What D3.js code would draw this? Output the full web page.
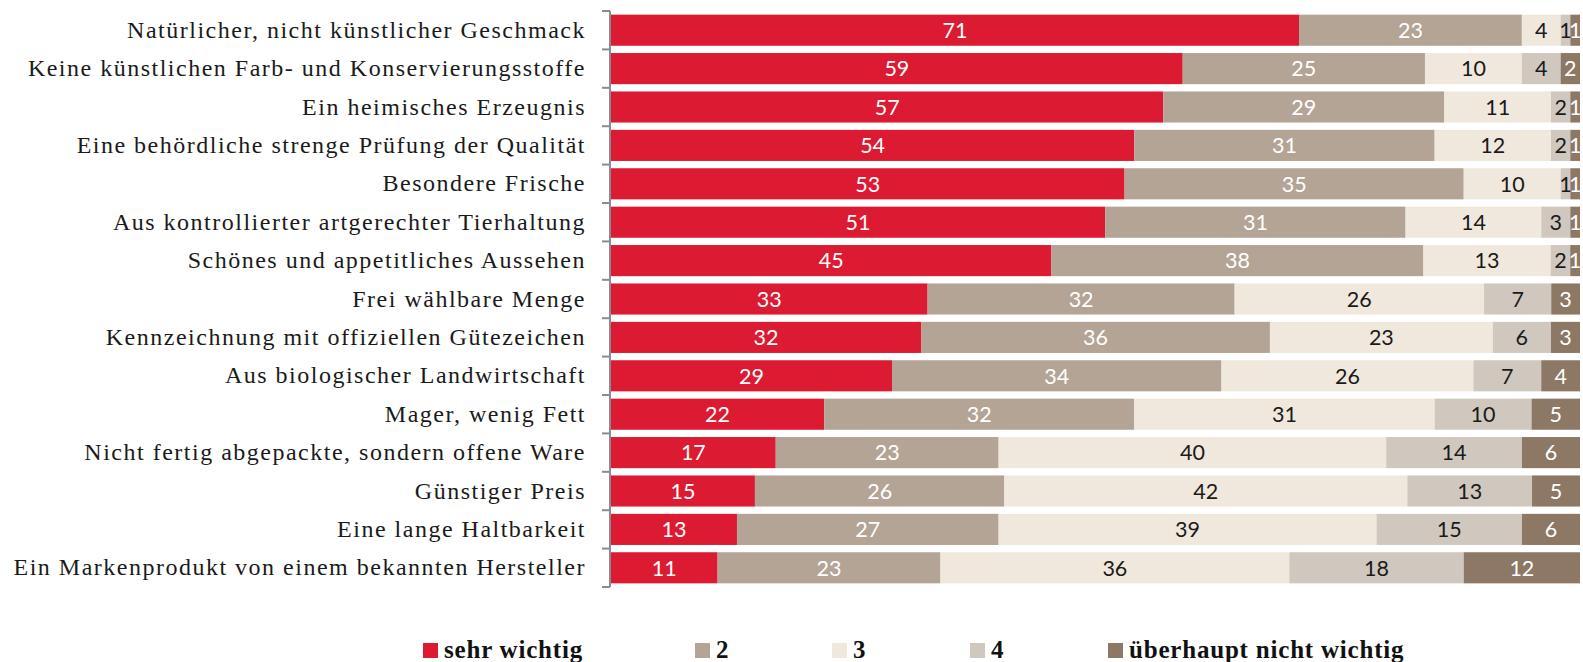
<!DOCTYPE html>
<html><head><meta charset="utf-8">
<script src="https://cdn.jsdelivr.net/npm/d3@7/dist/d3.min.js"></script>
<style>
html,body{margin:0;padding:0;background:#fff;overflow:hidden}
svg{display:block}
</style></head>
<body>
<svg id="chart" width="1583" height="662"></svg>
<script>
const categories = [
  "Natürlicher, nicht künstlicher Geschmack",
  "Keine künstlichen Farb- und Konservierungsstoffe",
  "Ein heimisches Erzeugnis",
  "Eine behördliche strenge Prüfung der Qualität",
  "Besondere Frische",
  "Aus kontrollierter artgerechter Tierhaltung",
  "Schönes und appetitliches Aussehen",
  "Frei wählbare Menge",
  "Kennzeichnung mit offiziellen Gütezeichen",
  "Aus biologischer Landwirtschaft",
  "Mager, wenig Fett",
  "Nicht fertig abgepackte, sondern offene Ware",
  "Günstiger Preis",
  "Eine lange Haltbarkeit",
  "Ein Markenprodukt von einem bekannten Hersteller"
];
const seriesNames = ["sehr wichtig", "2", "3", "4", "überhaupt nicht wichtig"];
const s1 = [71, 59, 57, 54, 53, 51, 45, 33, 32, 29, 22, 17, 15, 13, 11];
const s2 = [23, 25, 29, 31, 35, 31, 38, 32, 36, 34, 32, 23, 26, 27, 23];
const s3 = [4, 10, 11, 12, 10, 14, 13, 26, 23, 26, 31, 40, 42, 39, 36];
const s4 = [1, 4, 2, 2, 1, 3, 2, 7, 6, 7, 10, 14, 13, 15, 18];
const s5 = [1, 2, 1, 1, 1, 1, 1, 3, 3, 4, 5, 6, 5, 6, 12];

const colors = ["#DC1A31", "#B3A496", "#F0E8DC", "#D0C8BF", "#8C7865"];
const textColors = ["#ffffff", "#ffffff", "#1a1a1a", "#1a1a1a", "#ffffff"];

const seriesVals = [s1, s2, s3, s4, s5];
const rows = categories.map((c, i) => {
  const o = {cat: c};
  seriesNames.forEach((s, k) => o[s] = seriesVals[k][i]);
  return o;
});

const svg = d3.select("#chart");
const plotLeft = 611, plotRight = 1580, plotTop = 11, plotBottom = 587;

const x = d3.scaleLinear().domain([0, 1]).range([plotLeft, plotRight]);
const y = d3.scaleBand().domain(categories).range([plotTop, plotBottom])
  .paddingInner(0.19).paddingOuter(0.095);

const stack = d3.stack().keys(seriesNames).offset(d3.stackOffsetExpand);
const stacked = stack(rows);

const g = svg.append("g");
stacked.forEach((layer, k) => {
  const lg = g.append("g");
  lg.selectAll("rect").data(layer).join("rect")
    .attr("x", d => x(d[0]))
    .attr("y", d => y(d.data.cat))
    .attr("width", d => x(d[1]) - x(d[0]))
    .attr("height", y.bandwidth())
    .attr("fill", colors[k]);
});
stacked.forEach((layer, k) => {
  g.append("g").selectAll("text").data(layer).join("text")
    .attr("x", d => (x(d[0]) + x(d[1])) / 2)
    .attr("y", d => y(d.data.cat) + y.bandwidth() / 2)
    .attr("dy", "0.36em")
    .attr("text-anchor", "middle")
    .attr("font-family", "Lato, 'Open Sans', sans-serif")
    .attr("font-size", 21.5)
    .attr("fill", textColors[k])
    .text(d => d.data[layer.key]);
});

// axis
const axis = d3.axisLeft(y).tickSize(0).tickPadding(24);
const ax = svg.append("g").attr("transform", `translate(${plotLeft - 1},0)`).call(axis);
ax.select(".domain").remove();
ax.selectAll("text")
  .attr("font-family", "'Liberation Serif', 'Times New Roman', serif")
  .attr("font-size", 24)
  .attr("letter-spacing", 1.5)
  .attr("fill", "#1a1a1a");
// axis line and boundary ticks
svg.append("line").attr("x1", plotLeft - 1).attr("x2", plotLeft - 1)
  .attr("y1", plotTop).attr("y2", plotBottom)
  .attr("stroke", "#8c8c8c").attr("stroke-width", 2);
const bounds = d3.range(categories.length + 1).map(i => plotTop + i * y.step());
svg.append("g").selectAll("line").data(bounds).join("line")
  .attr("x1", plotLeft - 9).attr("x2", plotLeft - 1)
  .attr("y1", d => d).attr("y2", d => d)
  .attr("stroke", "#8c8c8c").attr("stroke-width", 2);

// legend
const legendX = [423, 695, 832, 970, 1108];
const leg = svg.append("g");
seriesNames.forEach((s, k) => {
  leg.append("rect").attr("x", legendX[k]).attr("y", 643)
    .attr("width", 15).attr("height", 15).attr("fill", colors[k]);
  leg.append("text").attr("x", legendX[k] + 21).attr("y", 658)
    .attr("font-family", "'Liberation Serif', 'Times New Roman', serif")
    .attr("font-weight", "bold")
    .attr("font-size", 25)
    .attr("letter-spacing", 0.8)
    .attr("fill", "#111")
    .text(s);
});
</script>
</body></html>
